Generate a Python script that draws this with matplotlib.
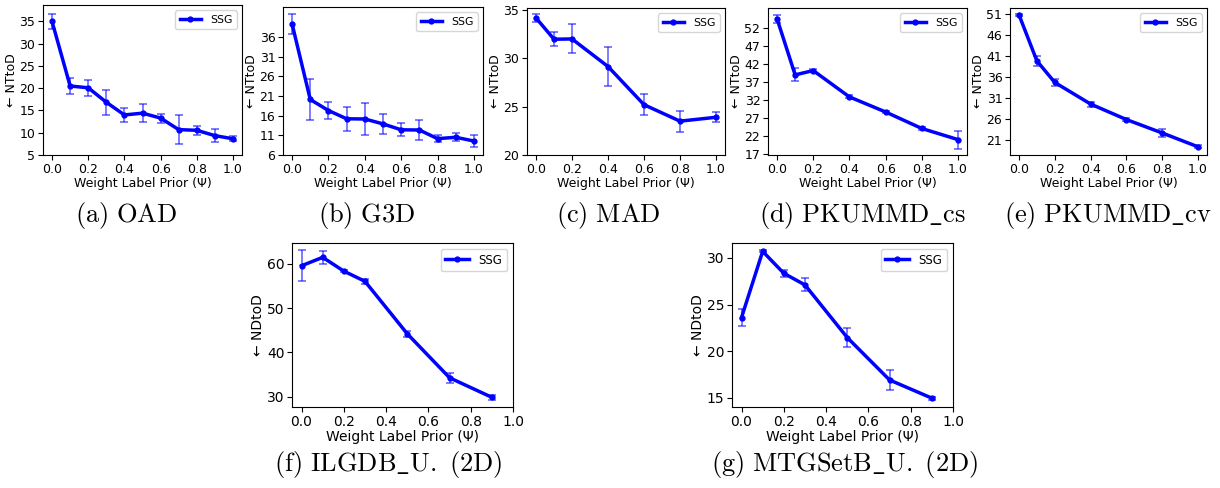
import numpy as np
import matplotlib.pyplot as plt

plt.rcParams['mathtext.fontset'] = 'cm'

# weight label prior values
x_full = [0.0, 0.1, 0.2, 0.3, 0.4, 0.5, 0.6, 0.7, 0.8, 0.9, 1.0]
x_part = [0.0, 0.1, 0.2, 0.4, 0.6, 0.8, 1.0]
x_2d = [0.0, 0.1, 0.2, 0.3, 0.5, 0.7, 0.9]

oad_y = [35.0, 20.5, 20.1, 16.85, 14.0, 14.4, 13.3, 10.7, 10.55, 9.35, 8.65]
oad_err = [1.6, 1.8, 1.8, 2.85, 1.5, 2.0, 1.0, 3.2, 1.0, 1.45, 0.6]

g3d_y = [39.3, 20.1, 17.3, 15.2, 15.15, 13.9, 12.4, 12.35, 10.15, 10.5, 9.55]
g3d_err = [2.55, 5.25, 2.15, 3.0, 4.0, 2.55, 1.7, 2.6, 0.9, 1.05, 1.55]

mad_y = [34.17, 31.97, 32.0, 29.15, 25.2, 23.5, 23.9]
mad_err = [0.4, 0.7, 1.5, 2.0, 1.1, 1.1, 0.5]

pku_cs_y = [54.6, 38.95, 40.15, 32.8, 28.6, 24.0, 20.9]
pku_cs_err = [1.1, 1.8, 0.3, 0.4, 0.3, 0.5, 2.5]

pku_cv_y = [50.8, 39.8, 34.65, 29.5, 25.8, 22.6, 19.3]
pku_cv_err = [0.2, 1.25, 0.8, 0.6, 0.3, 1.05, 0.35]

ilgdb_y = [59.5, 61.4, 58.3, 56.0, 44.2, 34.3, 29.9]
ilgdb_err = [3.45, 1.45, 0.3, 0.55, 0.7, 1.1, 0.5]

mtg_y = [23.6, 30.7, 28.35, 27.1, 21.45, 16.9, 14.95]
mtg_err = [0.9, 0.1, 0.4, 0.7, 1.0, 1.1, 0.15]

W, H = 1220, 488
fig = plt.figure(figsize=(12.2, 4.88), dpi=100)

def add_ax(l, t, r, b):
    return fig.add_axes([l / W, 1 - b / H, (r - l) / W, (b - t) / H])

def draw(ax, x, y, err, ylab, fs, legfs):
    ax.errorbar(x, y, yerr=err, fmt='none', ecolor='blue', alpha=0.6,
                capsize=3, elinewidth=1.2, capthick=1.2)
    ax.plot(x, y, '-o', color='blue', lw=2.5, ms=3.5, label='SSG')
    ax.set_xlabel('Weight Label Prior (Ψ)', fontsize=fs, labelpad=1)
    ax.set_ylabel(ylab, fontsize=fs, labelpad=1)
    ax.tick_params(labelsize=fs, pad=2)
    ax.set_xticks([0.0, 0.2, 0.4, 0.6, 0.8, 1.0])
    ax.legend(loc='upper right', fontsize=legfs)

def caption(cx, cy, cap):
    fig.text(cx / W, 1 - cy / H, r'$\mathrm{' + cap.replace(' ', r'\ ') + '}$',
             ha='center', va='center', fontsize=19)

top_row = [
    ((43, 5, 242, 155), x_full, oad_y, oad_err, [5, 10, 15, 20, 25, 30, 35], (5, 38.7), '(a) OAD', 126),
    ((283, 7, 483, 155), x_full, g3d_y, g3d_err, [6, 11, 16, 21, 26, 31, 36], (6, 43.6), '(b) G3D', 367),
    ((527, 8, 725, 155), x_part, mad_y, mad_err, [20, 25, 30, 35], (20, 35.2), '(c) MAD', 608),
    ((768, 8, 967, 155), x_part, pku_cs_y, pku_cs_err, [17, 22, 27, 32, 37, 42, 47, 52], (16.6, 57.6), r'(d) PKUMMD\_cs', 862),
    ((1010, 8, 1207, 155), x_part, pku_cv_y, pku_cv_err, [21, 26, 31, 36, 41, 46, 51], (17.35, 52.4), r'(e) PKUMMD\_cv', 1108),
]

for box, x, y, err, yt, ylim, cap, cx in top_row:
    ax = add_ax(*box)
    draw(ax, x, y, err, '← NTtoD', 9, 7.8)
    ax.set_yticks(yt)
    ax.set_ylim(*ylim)
    ax.set_xlim(-0.05, 1.05)
    caption(cx, 215, cap)

bottom_row = [
    ((292, 243, 513, 407), ilgdb_y, ilgdb_err, [30, 40, 50, 60], r'(f) ILGDB\_U. (2D)', 388),
    ((732, 243, 953, 407), mtg_y, mtg_err, [15, 20, 25, 30], r'(g) MTGSetB\_U. (2D)', 845),
]

for box, y, err, yt, cap, cx in bottom_row:
    ax = add_ax(*box)
    draw(ax, x_2d, y, err, '← NDtoD', 10, 8.5)
    ax.set_yticks(yt)
    ax.set_xlim(-0.045, 1.0)
    caption(cx, 465, cap)

fig.savefig('out.png', dpi=100)
